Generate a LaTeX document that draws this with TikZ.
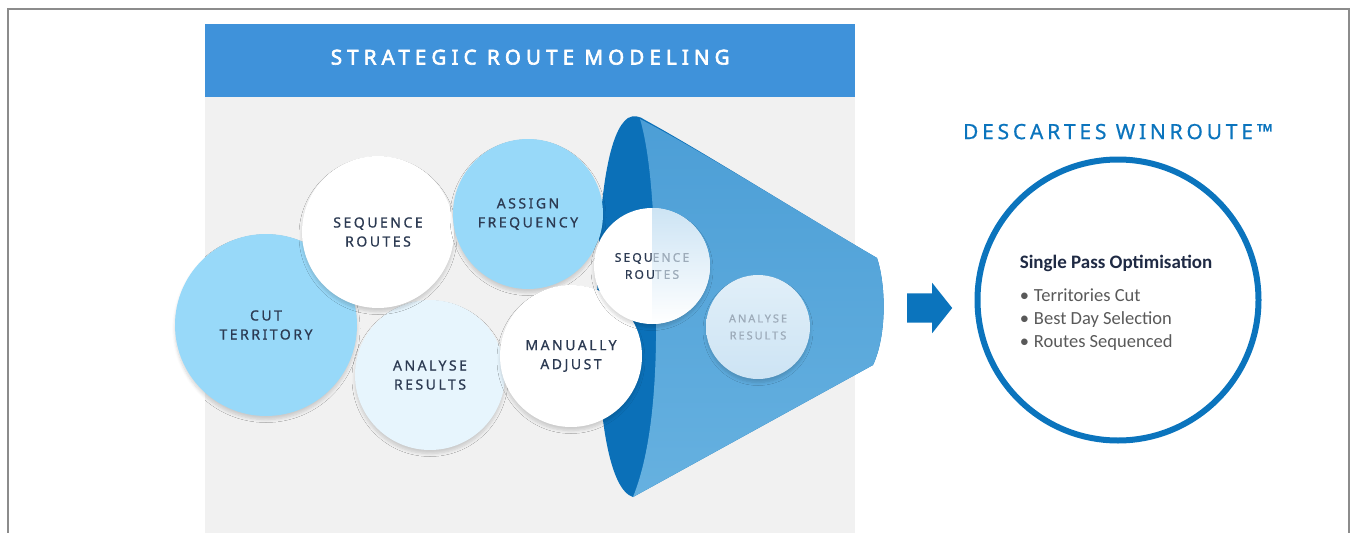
\documentclass[tikz,border=0pt]{standalone}
\usepackage{fontspec}
\setmainfont{Carlito}
\newfontfamily\capsfont[LetterSpace=18, FakeBold=0.8]{Noto Sans}
\newfontfamily\headfont[LetterSpace=25, FakeBold=3]{Noto Sans}
\newfontfamily\brandfont[LetterSpace=18, FakeBold=0.6]{Noto Sans}
\usepackage{xcolor}
\usepackage{tikz}
\usetikzlibrary{positioning, shapes.arrows, shadows.blur}

\definecolor{frame}{HTML}{8C8C8C}
\definecolor{panel}{HTML}{F1F1F1}
\definecolor{banner}{HTML}{3F92DA}
\definecolor{sky}{HTML}{98D9F9}
\definecolor{mist}{HTML}{E7F5FD}
\definecolor{ink}{HTML}{2C3A52}
\definecolor{funneldark}{HTML}{0B70B8}
\definecolor{funneltop}{HTML}{4C9ED6}
\definecolor{funnelbot}{HTML}{66B1E0}
\definecolor{fadeink}{HTML}{9DABB9}
\definecolor{glass}{HTML}{CDE4F4}
\definecolor{brand}{HTML}{0B74BD}
\definecolor{navy}{HTML}{1F2A44}
\definecolor{bodytext}{HTML}{595959}

\begin{document}
\begin{tikzpicture}[
  x=1pt, y=-1pt,
  bubble/.style={circle, inner sep=0pt, align=center, text=ink,
    font=\capsfont\fontsize{14}{19}\selectfont,
    blur shadow={shadow xshift=0pt, shadow yshift=-3.5pt, shadow opacity=16, shadow blur radius=3pt, shadow blur steps=6}},
  ghost/.style={bubble, text=fadeink, font=\capsfont\fontsize{11}{17}\selectfont},
]
\useasboundingbox (0,0) rectangle (1353,533);
\draw[frame, line width=1.2pt] (8,533) -- (8,9) -- (1349,9) -- (1349,533);

\fill[panel] (205,97) rectangle (855,533);
\node (banner) [fill=banner, minimum width=650pt, minimum height=73pt, inner sep=0pt, anchor=north west] at (205,24) {};
\node (heading) [yshift=3.5pt, inner sep=0pt, text=white, font=\headfont\fontsize{20.5}{20.5}\selectfont] at (banner) {STRATEGIC ROUTE MODELING};

% funnel
\fill[funneldark] (628,118) .. controls (610,130) and (598,190) .. (597,307)
  .. controls (597,420) and (610,490) .. (633,497) -- (873,365)
  .. controls (887,335) and (886,285) .. (877,258)
  .. controls (800,213) and (700,150) .. (645,120) .. controls (640,116) and (633,115) .. (628,118) -- cycle;
\shade[top color=funneltop, bottom color=funnelbot] (640,119) .. controls (652,160) and (655,230) .. (656,307)
  .. controls (657,380) and (652,450) .. (633,497) -- (873,365)
  .. controls (887,335) and (886,285) .. (877,258)
  .. controls (800,213) and (700,150) .. (640,119) -- cycle;

\node[bubble, fill=sky, minimum size=182pt] (cut) at (266,325) {CUT\\TERRITORY};
\node[bubble, fill=mist, minimum size=150pt] (analyse) at (430,375) {ANALYSE\\RESULTS};
\node[bubble, fill=white, minimum size=152pt] (sequence) at (378,232) {SEQUENCE\\ROUTES};
\node[bubble, fill=sky, minimum size=150pt] (assign) at (528,214) {ASSIGN\\FREQUENCY};
\node[bubble, fill=white, minimum size=142pt] (adjust) at (571,356) {MANUALLY\\ADJUST};
\node[bubble, fill=white, minimum size=116pt, font=\capsfont\fontsize{12}{17}\selectfont,
  path picture={\shade[top color=glass, bottom color=white] (path picture bounding box.north) rectangle (path picture bounding box.south east);}]
  (fsequence) at (652,266) {SEQU{\color{fadeink}ENCE}\\ROU{\color{fadeink}TES}};
\node[ghost, top color=white!40!glass, bottom color=glass, minimum size=104pt] (fanalyse) at (758,327) {ANALYSE\\RESULTS};

\node[single arrow, fill=brand, inner xsep=0pt, inner ysep=14.5pt, minimum height=45pt,
  single arrow head extend=10.5pt, single arrow tip angle=103, anchor=tail] (arrow) at (907,308) {};

\node (opt) [circle, draw=brand, line width=6pt, minimum size=281pt, inner sep=0pt] at (1118,300) {};
\node (title) [above=17pt of opt, inner sep=0pt, text=brand, font=\brandfont\fontsize{21}{21}\selectfont] {DESCARTES WINROUTE™};
\node (head) [inner sep=0pt, text=navy, font=\bfseries\fontsize{19}{19}\selectfont] at (1116,263) {Single Pass Optimisation};
\node (points) [below right=17pt and 0pt of head.south west, inner sep=0pt, align=left, text=bodytext, font=\fontsize{18.5}{23}\selectfont]
  {\textbullet\hspace{5pt}Territories Cut\\\textbullet\hspace{5pt}Best Day Selection\\\textbullet\hspace{5pt}Routes Sequenced};
\end{tikzpicture}
\end{document}
